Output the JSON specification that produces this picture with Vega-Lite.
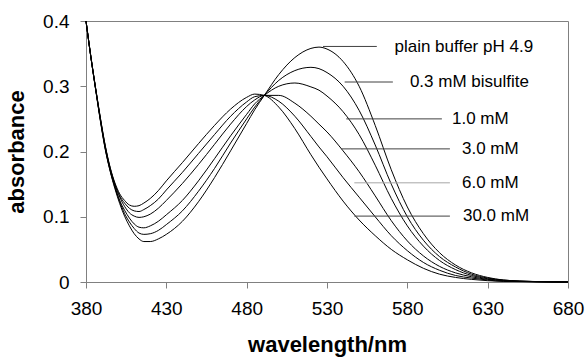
{
 "$schema": "https://vega.github.io/schema/vega-lite/v6.json",
 "width": 482,
 "height": 261,
 "autosize": {"type": "none"},
 "padding": {"left": 86, "top": 21, "right": 18, "bottom": 75},
 "background": "white",
 "config": {
  "font": "Liberation Sans",
  "view": {"stroke": "#808080", "strokeWidth": 1},
  "axis": {"domainColor": "#808080", "tickColor": "#808080", "labelColor": "black", "titleColor": "black", "grid": false, "tickSize": 6, "labelFontSize": 19, "titleFontSize": 22, "titleFontWeight": "bold", "labelFlush": false, "labelOverlap": false}
 },
 "datasets": {
  "curves": [
   {"s":"plain","x":380,"y":0.400},{"s":"plain","x":383,"y":0.345},{"s":"plain","x":386,"y":0.295},{"s":"plain","x":389,"y":0.246},{"s":"plain","x":392,"y":0.203},{"s":"plain","x":395,"y":0.170},{"s":"plain","x":398,"y":0.143},{"s":"plain","x":401,"y":0.120},{"s":"plain","x":404,"y":0.101},{"s":"plain","x":407,"y":0.086},{"s":"plain","x":410,"y":0.074},{"s":"plain","x":413,"y":0.066},{"s":"plain","x":416,"y":0.062},{"s":"plain","x":420,"y":0.062},{"s":"plain","x":425,"y":0.066},{"s":"plain","x":430,"y":0.073},{"s":"plain","x":440,"y":0.093},{"s":"plain","x":450,"y":0.123},{"s":"plain","x":460,"y":0.160},{"s":"plain","x":470,"y":0.201},{"s":"plain","x":480,"y":0.243},{"s":"plain","x":485,"y":0.264},{"s":"plain","x":491,"y":0.286},{"s":"plain","x":500,"y":0.318},{"s":"plain","x":510,"y":0.344},{"s":"plain","x":520,"y":0.358},{"s":"plain","x":525,"y":0.360},{"s":"plain","x":530,"y":0.357},{"s":"plain","x":540,"y":0.338},{"s":"plain","x":550,"y":0.300},{"s":"plain","x":560,"y":0.240},{"s":"plain","x":570,"y":0.172},{"s":"plain","x":580,"y":0.115},{"s":"plain","x":590,"y":0.074},{"s":"plain","x":600,"y":0.045},{"s":"plain","x":610,"y":0.026},{"s":"plain","x":620,"y":0.014},{"s":"plain","x":630,"y":0.007},{"s":"plain","x":640,"y":0.003},{"s":"plain","x":650,"y":0.0015},{"s":"plain","x":660,"y":0.0007},{"s":"plain","x":670,"y":0.0003},{"s":"plain","x":680,"y":0},
   {"s":"0.3","x":380,"y":0.400},{"s":"0.3","x":383,"y":0.345},{"s":"0.3","x":386,"y":0.295},{"s":"0.3","x":389,"y":0.247},{"s":"0.3","x":392,"y":0.204},{"s":"0.3","x":395,"y":0.171},{"s":"0.3","x":398,"y":0.145},{"s":"0.3","x":401,"y":0.123},{"s":"0.3","x":404,"y":0.105},{"s":"0.3","x":407,"y":0.092},{"s":"0.3","x":410,"y":0.082},{"s":"0.3","x":413,"y":0.075},{"s":"0.3","x":416,"y":0.073},{"s":"0.3","x":420,"y":0.074},{"s":"0.3","x":425,"y":0.079},{"s":"0.3","x":430,"y":0.088},{"s":"0.3","x":440,"y":0.109},{"s":"0.3","x":450,"y":0.139},{"s":"0.3","x":460,"y":0.174},{"s":"0.3","x":470,"y":0.213},{"s":"0.3","x":480,"y":0.250},{"s":"0.3","x":485,"y":0.268},{"s":"0.3","x":491,"y":0.286},{"s":"0.3","x":500,"y":0.309},{"s":"0.3","x":510,"y":0.324},{"s":"0.3","x":520,"y":0.329},{"s":"0.3","x":525,"y":0.327},{"s":"0.3","x":530,"y":0.321},{"s":"0.3","x":540,"y":0.300},{"s":"0.3","x":550,"y":0.263},{"s":"0.3","x":560,"y":0.210},{"s":"0.3","x":570,"y":0.150},{"s":"0.3","x":580,"y":0.100},{"s":"0.3","x":590,"y":0.064},{"s":"0.3","x":600,"y":0.039},{"s":"0.3","x":610,"y":0.023},{"s":"0.3","x":620,"y":0.012},{"s":"0.3","x":630,"y":0.006},{"s":"0.3","x":640,"y":0.003},{"s":"0.3","x":650,"y":0.0013},{"s":"0.3","x":660,"y":0.0006},{"s":"0.3","x":670,"y":0.0003},{"s":"0.3","x":680,"y":0},
   {"s":"1.0","x":380,"y":0.400},{"s":"1.0","x":383,"y":0.345},{"s":"1.0","x":386,"y":0.296},{"s":"1.0","x":389,"y":0.248},{"s":"1.0","x":392,"y":0.205},{"s":"1.0","x":395,"y":0.172},{"s":"1.0","x":398,"y":0.146},{"s":"1.0","x":401,"y":0.125},{"s":"1.0","x":404,"y":0.110},{"s":"1.0","x":407,"y":0.098},{"s":"1.0","x":410,"y":0.089},{"s":"1.0","x":413,"y":0.084},{"s":"1.0","x":416,"y":0.083},{"s":"1.0","x":420,"y":0.086},{"s":"1.0","x":425,"y":0.093},{"s":"1.0","x":430,"y":0.103},{"s":"1.0","x":440,"y":0.125},{"s":"1.0","x":450,"y":0.155},{"s":"1.0","x":460,"y":0.189},{"s":"1.0","x":470,"y":0.224},{"s":"1.0","x":480,"y":0.257},{"s":"1.0","x":485,"y":0.273},{"s":"1.0","x":491,"y":0.286},{"s":"1.0","x":500,"y":0.300},{"s":"1.0","x":510,"y":0.305},{"s":"1.0","x":520,"y":0.299},{"s":"1.0","x":525,"y":0.294},{"s":"1.0","x":530,"y":0.285},{"s":"1.0","x":540,"y":0.261},{"s":"1.0","x":550,"y":0.226},{"s":"1.0","x":560,"y":0.179},{"s":"1.0","x":570,"y":0.128},{"s":"1.0","x":580,"y":0.086},{"s":"1.0","x":590,"y":0.055},{"s":"1.0","x":600,"y":0.033},{"s":"1.0","x":610,"y":0.019},{"s":"1.0","x":620,"y":0.010},{"s":"1.0","x":630,"y":0.005},{"s":"1.0","x":640,"y":0.002},{"s":"1.0","x":650,"y":0.0012},{"s":"1.0","x":660,"y":0.0006},{"s":"1.0","x":670,"y":0.0002},{"s":"1.0","x":680,"y":0},
   {"s":"3.0","x":380,"y":0.400},{"s":"3.0","x":383,"y":0.346},{"s":"3.0","x":386,"y":0.296},{"s":"3.0","x":389,"y":0.249},{"s":"3.0","x":392,"y":0.207},{"s":"3.0","x":395,"y":0.174},{"s":"3.0","x":398,"y":0.149},{"s":"3.0","x":401,"y":0.130},{"s":"3.0","x":404,"y":0.116},{"s":"3.0","x":407,"y":0.106},{"s":"3.0","x":410,"y":0.101},{"s":"3.0","x":413,"y":0.099},{"s":"3.0","x":416,"y":0.100},{"s":"3.0","x":420,"y":0.104},{"s":"3.0","x":425,"y":0.113},{"s":"3.0","x":430,"y":0.125},{"s":"3.0","x":440,"y":0.151},{"s":"3.0","x":450,"y":0.180},{"s":"3.0","x":460,"y":0.211},{"s":"3.0","x":470,"y":0.242},{"s":"3.0","x":480,"y":0.269},{"s":"3.0","x":485,"y":0.279},{"s":"3.0","x":491,"y":0.286},{"s":"3.0","x":500,"y":0.286},{"s":"3.0","x":510,"y":0.274},{"s":"3.0","x":520,"y":0.254},{"s":"3.0","x":525,"y":0.242},{"s":"3.0","x":530,"y":0.230},{"s":"3.0","x":540,"y":0.201},{"s":"3.0","x":550,"y":0.169},{"s":"3.0","x":560,"y":0.132},{"s":"3.0","x":570,"y":0.094},{"s":"3.0","x":580,"y":0.063},{"s":"3.0","x":590,"y":0.040},{"s":"3.0","x":600,"y":0.024},{"s":"3.0","x":610,"y":0.014},{"s":"3.0","x":620,"y":0.008},{"s":"3.0","x":630,"y":0.004},{"s":"3.0","x":640,"y":0.002},{"s":"3.0","x":650,"y":0.0009},{"s":"3.0","x":660,"y":0.0005},{"s":"3.0","x":670,"y":0.0002},{"s":"3.0","x":680,"y":0},
   {"s":"6.0","x":380,"y":0.400},{"s":"6.0","x":383,"y":0.346},{"s":"6.0","x":386,"y":0.297},{"s":"6.0","x":389,"y":0.250},{"s":"6.0","x":392,"y":0.208},{"s":"6.0","x":395,"y":0.175},{"s":"6.0","x":398,"y":0.150},{"s":"6.0","x":401,"y":0.132},{"s":"6.0","x":404,"y":0.121},{"s":"6.0","x":407,"y":0.113},{"s":"6.0","x":410,"y":0.109},{"s":"6.0","x":413,"y":0.108},{"s":"6.0","x":416,"y":0.111},{"s":"6.0","x":420,"y":0.117},{"s":"6.0","x":425,"y":0.127},{"s":"6.0","x":430,"y":0.141},{"s":"6.0","x":440,"y":0.168},{"s":"6.0","x":450,"y":0.197},{"s":"6.0","x":460,"y":0.226},{"s":"6.0","x":470,"y":0.254},{"s":"6.0","x":480,"y":0.276},{"s":"6.0","x":485,"y":0.284},{"s":"6.0","x":491,"y":0.286},{"s":"6.0","x":500,"y":0.277},{"s":"6.0","x":510,"y":0.254},{"s":"6.0","x":520,"y":0.223},{"s":"6.0","x":525,"y":0.207},{"s":"6.0","x":530,"y":0.192},{"s":"6.0","x":540,"y":0.160},{"s":"6.0","x":550,"y":0.130},{"s":"6.0","x":560,"y":0.100},{"s":"6.0","x":570,"y":0.071},{"s":"6.0","x":580,"y":0.048},{"s":"6.0","x":590,"y":0.030},{"s":"6.0","x":600,"y":0.018},{"s":"6.0","x":610,"y":0.010},{"s":"6.0","x":620,"y":0.006},{"s":"6.0","x":630,"y":0.003},{"s":"6.0","x":640,"y":0.001},{"s":"6.0","x":650,"y":0.0008},{"s":"6.0","x":660,"y":0.0004},{"s":"6.0","x":670,"y":0.0001},{"s":"6.0","x":680,"y":0},
   {"s":"30","x":380,"y":0.400},{"s":"30","x":383,"y":0.346},{"s":"30","x":386,"y":0.297},{"s":"30","x":389,"y":0.251},{"s":"30","x":392,"y":0.209},{"s":"30","x":395,"y":0.176},{"s":"30","x":398,"y":0.152},{"s":"30","x":401,"y":0.135},{"s":"30","x":404,"y":0.125},{"s":"30","x":407,"y":0.118},{"s":"30","x":410,"y":0.116},{"s":"30","x":413,"y":0.117},{"s":"30","x":416,"y":0.121},{"s":"30","x":420,"y":0.128},{"s":"30","x":425,"y":0.140},{"s":"30","x":430,"y":0.155},{"s":"30","x":440,"y":0.183},{"s":"30","x":450,"y":0.212},{"s":"30","x":460,"y":0.240},{"s":"30","x":470,"y":0.265},{"s":"30","x":480,"y":0.283},{"s":"30","x":485,"y":0.288},{"s":"30","x":491,"y":0.286},{"s":"30","x":500,"y":0.268},{"s":"30","x":510,"y":0.235},{"s":"30","x":520,"y":0.195},{"s":"30","x":525,"y":0.176},{"s":"30","x":530,"y":0.158},{"s":"30","x":540,"y":0.124},{"s":"30","x":550,"y":0.095},{"s":"30","x":560,"y":0.071},{"s":"30","x":570,"y":0.050},{"s":"30","x":580,"y":0.034},{"s":"30","x":590,"y":0.021},{"s":"30","x":600,"y":0.012},{"s":"30","x":610,"y":0.007},{"s":"30","x":620,"y":0.004},{"s":"30","x":630,"y":0.002},{"s":"30","x":640,"y":0.001},{"s":"30","x":650,"y":0.0006},{"s":"30","x":660,"y":0.0003},{"s":"30","x":670,"y":0.0001},{"s":"30","x":680,"y":0}
  ],
  "labels": [
   {"label":"plain buffer pH 4.9","tx":572,"ty":0.36,"x1":527.5,"x2":561,"ly":0.361},
   {"label":"0.3 mM bisulfite","tx":581.6,"ty":0.3065,"x1":541,"x2":571,"ly":0.3065},
   {"label":"1.0 mM","tx":607.8,"ty":0.25,"x1":542,"x2":601.5,"ly":0.25},
   {"label":"3.0 mM","tx":614,"ty":0.204,"x1":539,"x2":606.5,"ly":0.204},
   {"label":"6.0 mM","tx":614,"ty":0.152,"x1":547,"x2":606.5,"ly":0.152},
   {"label":"30.0 mM","tx":614.6,"ty":0.101,"x1":547,"x2":606.5,"ly":0.101}
  ]
 },
 "layer": [
  {
   "data": {"name": "curves"},
   "mark": {"type": "line", "interpolate": "monotone", "color": "black", "strokeWidth": 1},
   "encoding": {
    "x": {"field": "x", "type": "quantitative", "title": "wavelength/nm", "scale": {"domain": [380, 680], "nice": false, "zero": false},
     "axis": {"values": [380, 430, 480, 530, 580, 630, 680], "labelPadding": 11, "titlePadding": 16}},
    "y": {"field": "y", "type": "quantitative", "title": "absorbance", "scale": {"domain": [0, 0.4], "nice": false},
     "axis": {"values": [0, 0.1, 0.2, 0.3, 0.4], "format": ".1~f", "labelPadding": 11, "titlePadding": 14}},
    "detail": {"field": "s"}
   }
  },
  {
   "data": {"name": "labels"},
   "mark": {"type": "rule", "strokeWidth": 1},
   "encoding": {
    "x": {"field": "x1", "type": "quantitative", "title": "wavelength/nm"},
    "x2": {"field": "x2"},
    "y": {"field": "ly", "type": "quantitative", "title": "absorbance"},
    "color": {"condition": {"test": "datum.label === '6.0 mM'", "value": "#a6a6a6"}, "value": "#404040"}
   }
  },
  {
   "data": {"name": "labels"},
   "mark": {"type": "text", "align": "left", "baseline": "middle", "fontSize": 17, "color": "black"},
   "encoding": {
    "x": {"field": "tx", "type": "quantitative", "title": "wavelength/nm"},
    "y": {"field": "ty", "type": "quantitative", "title": "absorbance"},
    "text": {"field": "label"}
   }
  }
 ]
}
